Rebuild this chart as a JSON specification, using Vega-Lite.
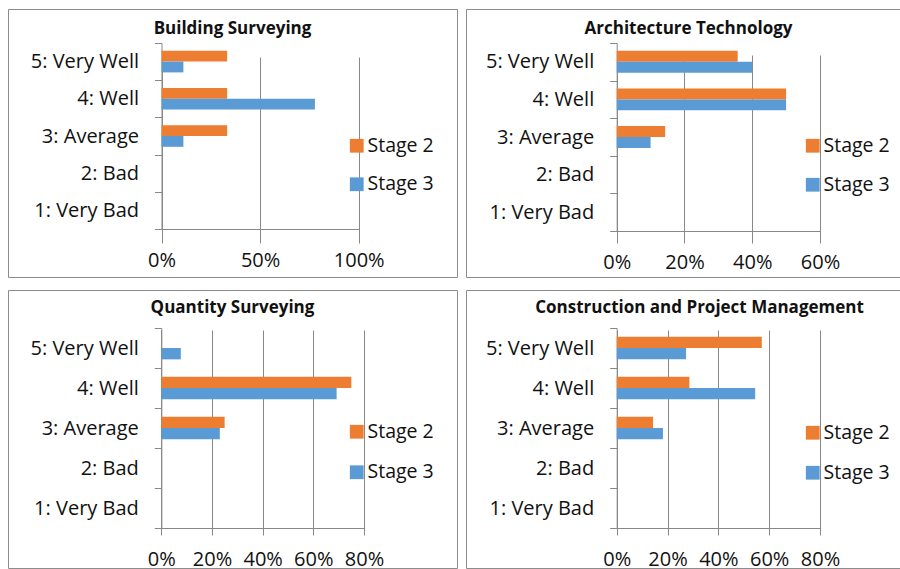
{
  "$schema": "https://vega.github.io/schema/vega-lite/v6.json",
  "padding": {"left": 7, "top": -2, "right": 0, "bottom": 0},
  "config": {
    "font": "Open Sans",
    "view": {"stroke": "#8c8c8c", "strokeWidth": 1},
    "axis": {"labelFont": "Open Sans", "labelFontSize": 20, "labelColor": "#111111", "domainColor": "#888888", "tickColor": "#888888", "gridColor": "#888888", "tickSize": 7, "labelPadding": 14, "labelFlush": false, "titleFont": "Open Sans", "titleFontSize": 17, "titleFontWeight": "bold", "titleColor": "#111111", "titleAlign": "center", "titleBaseline": "middle", "titleAngle": 0},
    "legend": {"labelFont": "Open Sans", "labelFontSize": 19.5, "labelColor": "#111111"}
  },
  "data": {"values": [
    {"programme": "Building Surveying", "rating": "5: Very Well", "stage": "Stage 2", "share": 0.333},
    {"programme": "Building Surveying", "rating": "5: Very Well", "stage": "Stage 3", "share": 0.111},
    {"programme": "Building Surveying", "rating": "4: Well", "stage": "Stage 2", "share": 0.333},
    {"programme": "Building Surveying", "rating": "4: Well", "stage": "Stage 3", "share": 0.778},
    {"programme": "Building Surveying", "rating": "3: Average", "stage": "Stage 2", "share": 0.333},
    {"programme": "Building Surveying", "rating": "3: Average", "stage": "Stage 3", "share": 0.111},
    {"programme": "Building Surveying", "rating": "2: Bad", "stage": "Stage 2", "share": 0},
    {"programme": "Building Surveying", "rating": "2: Bad", "stage": "Stage 3", "share": 0},
    {"programme": "Building Surveying", "rating": "1: Very Bad", "stage": "Stage 2", "share": 0},
    {"programme": "Building Surveying", "rating": "1: Very Bad", "stage": "Stage 3", "share": 0},
    {"programme": "Architecture Technology", "rating": "5: Very Well", "stage": "Stage 2", "share": 0.357},
    {"programme": "Architecture Technology", "rating": "5: Very Well", "stage": "Stage 3", "share": 0.4},
    {"programme": "Architecture Technology", "rating": "4: Well", "stage": "Stage 2", "share": 0.5},
    {"programme": "Architecture Technology", "rating": "4: Well", "stage": "Stage 3", "share": 0.5},
    {"programme": "Architecture Technology", "rating": "3: Average", "stage": "Stage 2", "share": 0.143},
    {"programme": "Architecture Technology", "rating": "3: Average", "stage": "Stage 3", "share": 0.1},
    {"programme": "Architecture Technology", "rating": "2: Bad", "stage": "Stage 2", "share": 0},
    {"programme": "Architecture Technology", "rating": "2: Bad", "stage": "Stage 3", "share": 0},
    {"programme": "Architecture Technology", "rating": "1: Very Bad", "stage": "Stage 2", "share": 0},
    {"programme": "Architecture Technology", "rating": "1: Very Bad", "stage": "Stage 3", "share": 0},
    {"programme": "Quantity Surveying", "rating": "5: Very Well", "stage": "Stage 2", "share": 0},
    {"programme": "Quantity Surveying", "rating": "5: Very Well", "stage": "Stage 3", "share": 0.077},
    {"programme": "Quantity Surveying", "rating": "4: Well", "stage": "Stage 2", "share": 0.75},
    {"programme": "Quantity Surveying", "rating": "4: Well", "stage": "Stage 3", "share": 0.692},
    {"programme": "Quantity Surveying", "rating": "3: Average", "stage": "Stage 2", "share": 0.25},
    {"programme": "Quantity Surveying", "rating": "3: Average", "stage": "Stage 3", "share": 0.231},
    {"programme": "Quantity Surveying", "rating": "2: Bad", "stage": "Stage 2", "share": 0},
    {"programme": "Quantity Surveying", "rating": "2: Bad", "stage": "Stage 3", "share": 0},
    {"programme": "Quantity Surveying", "rating": "1: Very Bad", "stage": "Stage 2", "share": 0},
    {"programme": "Quantity Surveying", "rating": "1: Very Bad", "stage": "Stage 3", "share": 0},
    {"programme": "Construction and Project Management", "rating": "5: Very Well", "stage": "Stage 2", "share": 0.571},
    {"programme": "Construction and Project Management", "rating": "5: Very Well", "stage": "Stage 3", "share": 0.273},
    {"programme": "Construction and Project Management", "rating": "4: Well", "stage": "Stage 2", "share": 0.286},
    {"programme": "Construction and Project Management", "rating": "4: Well", "stage": "Stage 3", "share": 0.545},
    {"programme": "Construction and Project Management", "rating": "3: Average", "stage": "Stage 2", "share": 0.143},
    {"programme": "Construction and Project Management", "rating": "3: Average", "stage": "Stage 3", "share": 0.182},
    {"programme": "Construction and Project Management", "rating": "2: Bad", "stage": "Stage 2", "share": 0},
    {"programme": "Construction and Project Management", "rating": "2: Bad", "stage": "Stage 3", "share": 0},
    {"programme": "Construction and Project Management", "rating": "1: Very Bad", "stage": "Stage 2", "share": 0},
    {"programme": "Construction and Project Management", "rating": "1: Very Bad", "stage": "Stage 3", "share": 0}
  ]},
  "columns": 2,
  "spacing": {"row": 13, "column": 9},
  "bounds": "flush",
  "resolve": {"scale": {"x": "independent", "y": "independent", "color": "independent", "yOffset": "independent"}, "legend": {"color": "independent"}},
  "concat": [
    {
      "width": 449, "height": 268,
      "transform": [{"filter": "datum.programme === 'Building Surveying'"}],
      "mark": {"type": "bar"},
      "encoding": {
        "y": {"field": "rating", "type": "nominal", "sort": ["5: Very Well", "4: Well", "3: Average", "2: Bad", "1: Very Bad"],
          "scale": {"domain": ["5: Very Well", "4: Well", "3: Average", "2: Bad", "1: Very Bad"], "range": [34, 220], "paddingInner": 0, "paddingOuter": 0},
          "axis": {"orient": "left", "offset": -153.5, "tickBand": "extent", "grid": false, "title": null, "labelPadding": 16}},
        "yOffset": {"field": "stage", "type": "nominal", "sort": ["Stage 2", "Stage 3"], "scale": {"paddingInner": 0, "paddingOuter": 0.72}},
        "x": {"field": "share", "type": "quantitative", "scale": {"domain": [0, 1], "range": [153.5, 350.7], "nice": false},
          "axis": {"orient": "bottom", "offset": -48, "values": [0, 0.5, 1], "format": ".0%", "grid": true, "title": "Building Surveying", "titleX": 224, "titleY": -201}},
        "color": {"field": "stage", "type": "nominal", "scale": {"domain": ["Stage 2", "Stage 3"], "range": ["#ED7D31", "#5B9BD5"]},
          "legend": {"orient": "none", "legendX": 339, "legendY": 127, "title": null, "symbolType": "square", "symbolSize": 190, "symbolStrokeWidth": 0, "labelOffset": 1, "rowPadding": 17.5}}
      }
    },
    {
      "width": 434, "height": 268,
      "transform": [{"filter": "datum.programme === 'Architecture Technology'"}],
      "mark": {"type": "bar"},
      "encoding": {
        "y": {"field": "rating", "type": "nominal", "sort": ["5: Very Well", "4: Well", "3: Average", "2: Bad", "1: Very Bad"],
          "scale": {"domain": ["5: Very Well", "4: Well", "3: Average", "2: Bad", "1: Very Bad"], "range": [34, 222], "paddingInner": 0, "paddingOuter": 0},
          "axis": {"orient": "left", "offset": -150.7, "tickBand": "extent", "grid": false, "title": null, "labelPadding": 16}},
        "yOffset": {"field": "stage", "type": "nominal", "sort": ["Stage 2", "Stage 3"], "scale": {"paddingInner": 0, "paddingOuter": 0.72}},
        "x": {"field": "share", "type": "quantitative", "scale": {"domain": [0, 0.6], "range": [150.7, 354], "nice": false},
          "axis": {"orient": "bottom", "offset": -46, "values": [0, 0.2, 0.4, 0.6], "format": ".0%", "grid": true, "title": "Architecture Technology", "titleX": 222, "titleY": -203}},
        "color": {"field": "stage", "type": "nominal", "scale": {"domain": ["Stage 2", "Stage 3"], "range": ["#ED7D31", "#5B9BD5"]},
          "legend": {"orient": "none", "legendX": 337, "legendY": 127, "title": null, "symbolType": "square", "symbolSize": 190, "symbolStrokeWidth": 0, "labelOffset": 1, "rowPadding": 18}}
      }
    },
    {
      "width": 449, "height": 278,
      "transform": [{"filter": "datum.programme === 'Quantity Surveying'"}],
      "mark": {"type": "bar"},
      "encoding": {
        "y": {"field": "rating", "type": "nominal", "sort": ["5: Very Well", "4: Well", "3: Average", "2: Bad", "1: Very Bad"],
          "scale": {"domain": ["5: Very Well", "4: Well", "3: Average", "2: Bad", "1: Very Bad"], "range": [38, 238], "paddingInner": 0, "paddingOuter": 0},
          "axis": {"orient": "left", "offset": -153.3, "tickBand": "extent", "grid": false, "title": null, "labelPadding": 16}},
        "yOffset": {"field": "stage", "type": "nominal", "sort": ["Stage 2", "Stage 3"], "scale": {"paddingInner": 0, "paddingOuter": 0.76}},
        "x": {"field": "share", "type": "quantitative", "scale": {"domain": [0, 0.8], "range": [153.3, 356], "nice": false},
          "axis": {"orient": "bottom", "offset": -40, "values": [0, 0.2, 0.4, 0.6, 0.8], "format": ".0%", "grid": true, "title": "Quantity Surveying", "titleX": 224, "titleY": -221}},
        "color": {"field": "stage", "type": "nominal", "scale": {"domain": ["Stage 2", "Stage 3"], "range": ["#ED7D31", "#5B9BD5"]},
          "legend": {"orient": "none", "legendX": 339, "legendY": 132, "title": null, "symbolType": "square", "symbolSize": 190, "symbolStrokeWidth": 0, "labelOffset": 1, "rowPadding": 19.5}}
      }
    },
    {
      "width": 434, "height": 278,
      "transform": [{"filter": "datum.programme === 'Construction and Project Management'"}],
      "mark": {"type": "bar"},
      "encoding": {
        "y": {"field": "rating", "type": "nominal", "sort": ["5: Very Well", "4: Well", "3: Average", "2: Bad", "1: Very Bad"],
          "scale": {"domain": ["5: Very Well", "4: Well", "3: Average", "2: Bad", "1: Very Bad"], "range": [38, 238], "paddingInner": 0, "paddingOuter": 0},
          "axis": {"orient": "left", "offset": -150.7, "tickBand": "extent", "grid": false, "title": null, "labelPadding": 16}},
        "yOffset": {"field": "stage", "type": "nominal", "sort": ["Stage 2", "Stage 3"], "scale": {"paddingInner": 0, "paddingOuter": 0.76}},
        "x": {"field": "share", "type": "quantitative", "scale": {"domain": [0, 0.8], "range": [150.7, 354], "nice": false},
          "axis": {"orient": "bottom", "offset": -40, "values": [0, 0.2, 0.4, 0.6, 0.8], "format": ".0%", "grid": true, "title": "Construction and Project Management", "titleX": 233, "titleY": -221}},
        "color": {"field": "stage", "type": "nominal", "scale": {"domain": ["Stage 2", "Stage 3"], "range": ["#ED7D31", "#5B9BD5"]},
          "legend": {"orient": "none", "legendX": 337, "legendY": 133, "title": null, "symbolType": "square", "symbolSize": 190, "symbolStrokeWidth": 0, "labelOffset": 1, "rowPadding": 19}}
      }
    }
  ]
}
